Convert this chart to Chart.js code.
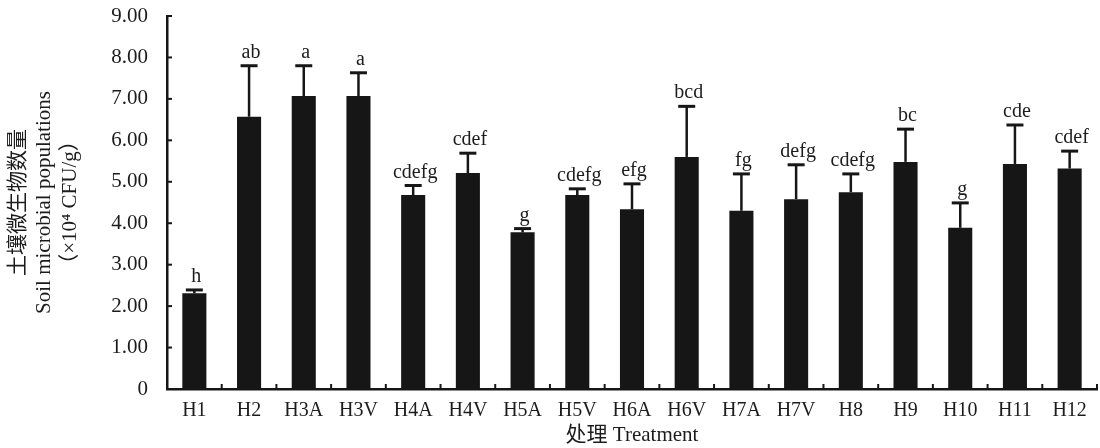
<!DOCTYPE html>
<html>
<head>
<meta charset="utf-8">
<script src="https://cdn.jsdelivr.net/npm/chart.js@4/dist/chart.umd.min.js"></script>
<style>
html, body { margin: 0; padding: 0; background: #fff; }
</style>
</head>
<body>
<canvas id="chart1" width="1100" height="448"></canvas>
<script>
var treatments = ["H1", "H2", "H3A", "H3V", "H4A", "H4V", "H5A", "H5V", "H6A", "H6V", "H7A", "H7V", "H8", "H9", "H10", "H11", "H12"];
var means = [2.31, 6.57, 7.07, 7.07, 4.68, 5.21, 3.78, 4.68, 4.34, 5.60, 4.30, 4.58, 4.75, 5.48, 3.89, 5.43, 5.32];
var errors = [0.08, 1.23, 0.73, 0.56, 0.23, 0.48, 0.09, 0.15, 0.61, 1.22, 0.89, 0.83, 0.44, 0.79, 0.60, 0.94, 0.42];
var letters = ["h", "ab", "a", "a", "cdefg", "cdef", "g", "cdefg", "efg", "bcd", "fg", "defg", "cdefg", "bc", "g", "cde", "cdef"];
var yTitle = ["土壤微生物数量", "Soil microbial populations", "（×10⁴ CFU/g）"];
var xTitle = "处理 Treatment";

var serif = "'Liberation Serif', 'Times New Roman', 'Noto Sans CJK SC', serif";
var ink = "#161616";

// error bars, significance letters and the small inward ticks
var extrasPlugin = {
  id: "extras",
  afterDatasetsDraw: function(chart) {
    var ctx = chart.ctx;
    var xs = chart.scales.x;
    var ys = chart.scales.y;
    var area = chart.chartArea;
    var meta = chart.getDatasetMeta(0);
    ctx.save();
    ctx.strokeStyle = ink;
    ctx.fillStyle = "#1c1c1c";
    ctx.font = "20px " + serif;
    ctx.textAlign = "center";
    ctx.textBaseline = "alphabetic";
    for (var i = 0; i < means.length; i++) {
      var bar = meta.data[i];
      var cx = bar.x;
      var top = ys.getPixelForValue(means[i] + errors[i]);
      ctx.lineWidth = 2.5;
      ctx.beginPath();
      ctx.moveTo(cx, bar.y);
      ctx.lineTo(cx, top);
      ctx.stroke();
      ctx.lineWidth = 3;
      ctx.beginPath();
      ctx.moveTo(cx - 8.5, top);
      ctx.lineTo(cx + 8.5, top);
      ctx.stroke();
      ctx.fillText(letters[i], cx + 2, top - 8);
    }

    ctx.lineWidth = 2;
    ys.ticks.forEach(function(t) {
      var py = ys.getPixelForValue(t.value);
      ctx.beginPath();
      ctx.moveTo(area.left, py);
      ctx.lineTo(area.left + 5, py);
      ctx.stroke();
    });
    var half = (xs.getPixelForValue(1) - xs.getPixelForValue(0)) / 2;
    for (var j = 0; j < treatments.length; j++) {
      var px = xs.getPixelForValue(j) + half;
      ctx.beginPath();
      ctx.moveTo(px, area.bottom);
      ctx.lineTo(px, area.bottom - 5);
      ctx.stroke();
    }
    ctx.restore();
  }
};

var chart1 = new Chart(document.getElementById("chart1"), {
  type: "bar",
  data: {
    labels: treatments,
    datasets: [{
      data: means,
      backgroundColor: ink,
      borderWidth: 0,
      categoryPercentage: 1,
      barPercentage: 0.44
    }]
  },
  options: {
    responsive: false,
    animation: false,
    layout: { padding: { left: 0, right: 3, top: 16, bottom: 0 } },
    plugins: {
      legend: { display: false },
      tooltip: { enabled: false }
    },
    scales: {
      x: {
        grid: { display: false, drawTicks: false },
        border: { display: true, color: ink, width: 2.5 },
        ticks: { color: "#1c1c1c", padding: 10, font: { family: serif, size: 20 }, maxRotation: 0, autoSkip: false },
        title: { display: true, text: xTitle, color: "#1c1c1c", font: { family: serif, size: 21 }, padding: { top: 0, bottom: 0 } },
        afterFit: function(scale) { scale.height = 59; }
      },
      y: {
        min: 0,
        max: 9,
        grid: { display: false, drawTicks: false },
        border: { display: true, color: ink, width: 2.5 },
        ticks: {
          stepSize: 1,
          color: "#1c1c1c",
          padding: 19,
          font: { family: serif, size: 21 },
          callback: function(v) { return v === 0 ? "0" : v.toFixed(2); }
        },
        title: { display: true, text: yTitle, color: "#1c1c1c", font: { family: serif, size: 21, lineHeight: 1.22 }, padding: { top: 6, bottom: 0 } },
        afterFit: function(scale) {
          scale.width = 167;
          scale.paddingTop = 4;
          scale.paddingBottom = 4;
        }
      }
    }
  },
  plugins: [extrasPlugin]
});
</script>
</body>
</html>
